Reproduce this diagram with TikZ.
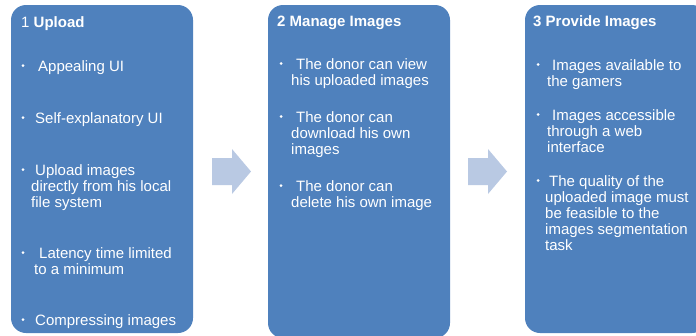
\documentclass[tikz,border=0pt]{standalone}
\usepackage{fontspec}
\setmainfont{Liberation Sans}
\usepackage{xcolor}
\usetikzlibrary{positioning}
\definecolor{boxblue}{HTML}{4F81BD}
\definecolor{arrblue}{HTML}{B9C9E3}

\begin{document}
\begin{tikzpicture}[x=1pt, y=-1pt,
  card/.style={fill=boxblue, rounded corners=15pt, minimum width=182pt, minimum height=328pt, inner sep=0pt},
  ttl/.style={anchor=base west, inner sep=0pt, text=white, font=\fontsize{15}{16}\selectfont},
  item/.style={anchor=base west, inner sep=0pt, align=left, text=white, font=\fontsize{15}{16}\selectfont},
  arr/.style={fill=arrblue}]
  \path[use as bounding box, clip] (0,0) rectangle (696,335);
  % the three stages
  \node[card] (upload)  at (102,169) {};
  \node[card, minimum height=333pt] (manage) at (359,171.5) {};
  \node[card] (provide) at (616,169) {};
  % block arrows between them
  \foreach \x in {212,468}
    \fill[arr] (\x,158) -- (\x+20,158) -- (\x+20,149) -- (\x+39,171.5)
      -- (\x+20,194) -- (\x+20,185) -- (\x,185) -- cycle;
  % 1 Upload (items placed at the baseline of their last line)
  \node[ttl] (t1) at (21,27) {1 \textbf{Upload}};
  \node[item] (u1) at (38,71)  {Appealing UI};
  \node[item] (u2) at (35,123) {Self-explanatory UI};
  \node[item] (u3) at (31,207) {\hspace*{4pt}Upload images\\directly from his local\\file system};
  \node[item] (u4) at (34,274) {\hspace*{5pt}Latency time limited\\to a minimum};
  \node[item] (u5) at (35,325) {Compressing images};
  \foreach \y in {71,123,175,258,325} \fill[white] (23,\y-5.5) circle (1.5);
  % 2 Manage Images
  \node[ttl] (t2) at (277,26) {\textbf{2 Manage Images}};
  \node[item] (m1) at (291,85)  {\hspace*{5pt}The donor can view\\his uploaded images};
  \node[item] (m2) at (291,154) {\hspace*{5pt}The donor can\\download his own\\images};
  \node[item] (m3) at (291,207) {\hspace*{5pt}The donor can\\delete his own image};
  \foreach \y in {69,122,191} \fill[white] (281,\y-5.5) circle (1.5);
  % 3 Provide Images
  \node[ttl] (t3) at (533,26) {\textbf{3 Provide Images}};
  \node[item] (p1) at (547,86)  {\hspace*{5pt}Images available to\\the gamers};
  \node[item] (p2) at (547,152) {\hspace*{5pt}Images accessible\\through a web\\interface};
  \node[item] (p3) at (545,250) {\hspace*{4pt}The quality of the\\uploaded image must\\be feasible to the\\images segmentation\\task};
  \foreach \y in {70,120,186} \fill[white] (538,\y-5.5) circle (1.5);
\end{tikzpicture}
\end{document}
